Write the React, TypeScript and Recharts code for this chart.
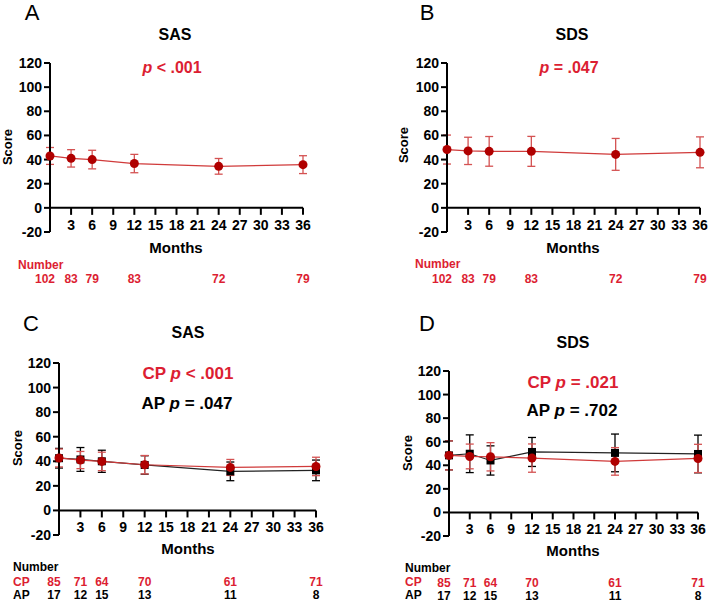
import React from 'react';
import { ErrorBar, Line, LineChart, ReferenceLine, XAxis, YAxis } from 'recharts';

// follow-up months and axis ticks
const months = [0, 3, 6, 12, 24, 36];
const monthTicks = [0, 3, 6, 9, 12, 15, 18, 21, 24, 27, 30, 33, 36];
const scoreTicks = [-20, 0, 20, 40, 60, 80, 100, 120];

// A / B: all patients
const sasAll = [43, 41, 40, 36.7, 34.4, 35.8];
const sasAllSd = [7, 7.2, 7.7, 7.6, 6.5, 7.4];
const sdsAll = [48.3, 47.2, 46.8, 46.8, 44.3, 46];
const sdsAllSd = [12, 11.3, 12.3, 12.4, 13.2, 12.8];
const numberAll = [102, 83, 79, 83, 72, 79];

// C / D: CP vs AP
const sasCp = [42.7, 41, 39.9, 37.2, 35, 35.8];
const sasCpSd = [7.3, 7, 7.5, 7.5, 6.5, 7.5];
const sasAp = [42.5, 41.5, 40, 37, 31.8, 32.6];
const sasApSd = [8, 9.7, 9, 7.5, 7.6, 8.4];
const sdsCp = [48.4, 47.5, 47.2, 46.1, 43.3, 45.8];
const sdsCpSd = [12.3, 10.5, 12, 12, 11.7, 12];
const sdsAp = [48.4, 49.8, 44.1, 51.3, 50.5, 49.6];
const sdsApSd = [12.3, 16, 12.4, 12.3, 16, 16];
const numberCp = [85, 71, 64, 70, 61, 71];
const numberAp = [17, 12, 15, 13, 11, 8];

const RED_TEXT = '#DC1E32';
const RED_DOT = '#B00000';
const RED_LINE = '#D03A3A';
const RED_ERR = '#D45252';
const FONT = '"Liberation Sans", Arial, sans-serif';
const Y_AXIS_W = 30;

const buildRows = (a: number[], aSd: number[], b?: number[], bSd?: number[]) =>
  months.map((m, i) => ({
    month: m,
    a: a[i],
    aSd: aSd[i],
    b: b ? b[i] : undefined,
    bSd: bSd ? bSd[i] : undefined,
  }));

interface Layout {
  x: number;
  y: number;
  w: number;
  h: number;
  plotL: number;
  plotT: number;
  plotW: number;
  plotH: number;
}

interface CountRow {
  values: number[];
  color: string;
  dy: number;
}

const redDot = (p: any) => <circle key={`c-${p.index}`} cx={p.cx} cy={p.cy} r={4.5} fill={RED_DOT} />;
const blackSquare = (p: any) => <rect key={`s-${p.index}`} x={p.cx - 4} y={p.cy - 4} width={8} height={8} fill="#000" />;

function MonthTick(props: any) {
  const { x, y, payload, plotH, rows } = props;
  const v = payload.value;
  const zeroY = y - (plotH * 20) / 140;
  const i = months.indexOf(v);
  return (
    <g>
      <line x1={x} x2={x} y1={zeroY} y2={zeroY + 7} stroke="#000" strokeWidth={2} />
      {v > 0 && (
        <text x={x} y={zeroY + 22} textAnchor="middle" fontSize={14} fontWeight="bold" fill="#000" fontFamily={FONT}>
          {v}
        </text>
      )}
      {i >= 0 &&
        rows.map((r: CountRow, k: number) => (
          <text
            key={k}
            x={x + (v === 0 ? -5 : 0)}
            y={y + r.dy}
            textAnchor="middle"
            fontSize={12}
            fontWeight="bold"
            fill={r.color}
            fontFamily={FONT}
          >
            {r.values[i]}
          </text>
        ))}
    </g>
  );
}

function Panel({ lay, data, two, rows }: { lay: Layout; data: any[]; two: boolean; rows: CountRow[] }) {
  const top = lay.plotT - lay.y;
  const left = lay.plotL - lay.x - Y_AXIS_W;
  const right = lay.w - (lay.plotL - lay.x) - lay.plotW;
  const xAxisH = lay.h - top - lay.plotH;
  return (
    <div style={{ position: 'absolute', left: lay.x, top: lay.y }}>
      <LineChart width={lay.w} height={lay.h} data={data} margin={{ top, right, left, bottom: 0 }}>
        <XAxis
          dataKey="month"
          type="number"
          domain={[0, 36]}
          ticks={monthTicks}
          interval={0}
          axisLine={false}
          tickLine={false}
          tickSize={0}
          tickMargin={0}
          height={xAxisH}
          tick={(p: any) => <MonthTick {...p} plotH={lay.plotH} rows={rows} />}
        />
        <YAxis
          type="number"
          domain={[-20, 120]}
          ticks={scoreTicks}
          interval={0}
          width={Y_AXIS_W}
          axisLine={{ stroke: '#000', strokeWidth: 2 }}
          tickLine={{ stroke: '#000', strokeWidth: 2 }}
          tickSize={6}
          tick={{ fontSize: 14, fontWeight: 'bold', fill: '#000', fontFamily: FONT }}
        />
        <ReferenceLine y={0} stroke="#000" strokeWidth={2} />
        {two && (
          <Line
            dataKey="b"
            type="linear"
            stroke="#222"
            strokeWidth={1.2}
            dot={blackSquare}
            activeDot={false}
            isAnimationActive={false}
          >
            <ErrorBar dataKey="bSd" direction="y" width={4} stroke="#000" strokeWidth={1.3} />
          </Line>
        )}
        <Line
          dataKey="a"
          type="linear"
          stroke={RED_LINE}
          strokeWidth={1.2}
          dot={redDot}
          activeDot={false}
          isAnimationActive={false}
        >
          <ErrorBar dataKey="aSd" direction="y" width={4} stroke={RED_ERR} strokeWidth={1.3} />
        </Line>
      </LineChart>
    </div>
  );
}

function T({
  x,
  y,
  children,
  size = 14,
  color = '#000',
  bold = true,
  rotate = false,
  alignLeft = false,
}: {
  x: number;
  y: number;
  children: React.ReactNode;
  size?: number;
  color?: string;
  bold?: boolean;
  rotate?: boolean;
  alignLeft?: boolean;
}) {
  const tf = alignLeft ? 'translate(0,-50%)' : 'translate(-50%,-50%)' + (rotate ? ' rotate(-90deg)' : '');
  return (
    <div
      style={{
        position: 'absolute',
        left: x,
        top: y,
        transform: tf,
        fontFamily: FONT,
        fontSize: size,
        fontWeight: bold ? 'bold' : 'normal',
        color,
        whiteSpace: 'nowrap',
        lineHeight: 1,
      }}
    >
      {children}
    </div>
  );
}

const P = () => <i>p</i>;

const layA: Layout = { x: 0, y: 0, w: 354, h: 300, plotL: 50, plotT: 63, plotW: 253, plotH: 169 };
const layB: Layout = { x: 354, y: 0, w: 355, h: 300, plotL: 447, plotT: 63, plotW: 253, plotH: 169 };
const layC: Layout = { x: 0, y: 300, w: 354, h: 302, plotL: 59, plotT: 363, plotW: 257, plotH: 172 };
const layD: Layout = { x: 354, y: 300, w: 355, h: 302, plotL: 449, plotT: 371, plotW: 249, plotH: 165 };

export default function App() {
  const allRows: CountRow[] = [{ values: numberAll, color: RED_TEXT, dy: 50.5 }];
  const groupRows: CountRow[] = [
    { values: numberCp, color: RED_TEXT, dy: 50.5 },
    { values: numberAp, color: '#000', dy: 64 },
  ];
  return (
    <div style={{ position: 'absolute', left: 0, top: 0, width: 709, height: 602, background: '#fff', overflow: 'hidden' }}>
      <Panel lay={layA} data={buildRows(sasAll, sasAllSd)} two={false} rows={allRows} />
      <Panel lay={layB} data={buildRows(sdsAll, sdsAllSd)} two={false} rows={allRows} />
      <Panel lay={layC} data={buildRows(sasCp, sasCpSd, sasAp, sasApSd)} two rows={groupRows} />
      <Panel lay={layD} data={buildRows(sdsCp, sdsCpSd, sdsAp, sdsApSd)} two rows={groupRows} />

      {/* panel A */}
      <T x={32} y={13} size={22} bold={false}>A</T>
      <T x={175} y={35} size={16}>SAS</T>
      <T x={172} y={68} size={16} color={RED_TEXT}><P /> &lt; .001</T>
      <T x={7} y={147} size={13} rotate>Score</T>
      <T x={176} y={247} size={15}>Months</T>
      <T x={18} y={265} size={12} color={RED_TEXT} alignLeft>Number</T>

      {/* panel B */}
      <T x={427} y={13} size={22} bold={false}>B</T>
      <T x={572} y={35} size={16}>SDS</T>
      <T x={569} y={68} size={16} color={RED_TEXT}><P /> = .047</T>
      <T x={403} y={145} size={13} rotate>Score</T>
      <T x={573} y={247} size={15}>Months</T>
      <T x={415} y={264} size={12} color={RED_TEXT} alignLeft>Number</T>

      {/* panel C */}
      <T x={31} y={324} size={22} bold={false}>C</T>
      <T x={188} y={333} size={16}>SAS</T>
      <T x={188} y={373} size={17} color={RED_TEXT}>CP <P /> &lt; .001</T>
      <T x={187} y={403} size={17}>AP <P /> = .047</T>
      <T x={17} y={448} size={13} rotate>Score</T>
      <T x={188} y={548} size={15}>Months</T>
      <T x={13} y={567} size={12} alignLeft>Number</T>
      <T x={13} y={582} size={12} color={RED_TEXT} alignLeft>CP</T>
      <T x={13} y={595} size={12} alignLeft>AP</T>

      {/* panel D */}
      <T x={427} y={324} size={22} bold={false}>D</T>
      <T x={573} y={343} size={16}>SDS</T>
      <T x={573} y={382} size={17} color={RED_TEXT}>CP <P /> = .021</T>
      <T x={572} y={410} size={17}>AP <P /> = .702</T>
      <T x={407} y={453} size={13} rotate>Score</T>
      <T x={573} y={550} size={15}>Months</T>
      <T x={405} y={568} size={12} alignLeft>Number</T>
      <T x={405} y={582} size={12} color={RED_TEXT} alignLeft>CP</T>
      <T x={405} y={595} size={12} alignLeft>AP</T>
    </div>
  );
}
